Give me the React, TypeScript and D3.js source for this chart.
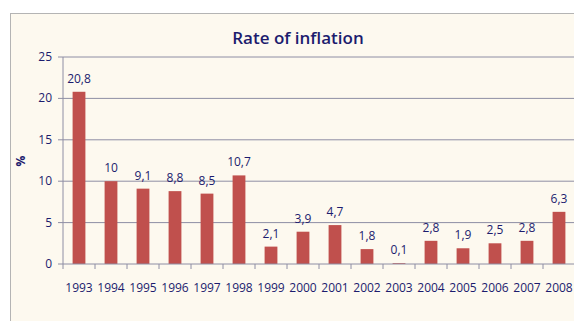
import React from "react";
import * as d3 from "d3";

const years = ["1993","1994","1995","1996","1997","1998","1999","2000","2001","2002","2003","2004","2005","2006","2007","2008"];
const rates = [20.8, 10, 9.1, 8.8, 8.5, 10.7, 2.1, 3.9, 4.7, 1.8, 0.1, 2.8, 1.9, 2.5, 2.8, 6.3];
const yTicks = [0, 5, 10, 15, 20, 25];
const title = "Rate of inflation";
const yLabel = "%";

const W = 574, H = 321;
const plot = { left: 63, right: 575, top: 57, bottom: 264 };
const navy = "#1c1c6e";
const font = "'Open Sans', sans-serif";

export default function App() {
  const x = d3.scaleBand<string>().domain(years).range([plot.left, plot.right]).paddingInner(0.6).paddingOuter(0.3);
  const xb = d3.scaleBand<string>().domain(years).range([plot.left, plot.right]);
  const y = d3.scaleLinear().domain([0, 25]).range([plot.bottom, plot.top]);
  const fmt = (v: number) => String(v).replace(".", ",");
  return (
    <svg width={W} height={H} style={{ position: "absolute", left: 0, top: 0 }} fontFamily={font}>
      <rect x={0} y={0} width={W} height={H} fill="#ffffff" />
      <rect x={10.5} y={13.5} width={W} height={H} fill="#fdf9ef" stroke="#b4b4b4" strokeWidth={1} />
      <text x={298} y={44} textAnchor="middle" fontSize={17} fontWeight={600} fill={navy}>{title}</text>
      <text transform={`translate(25,161) rotate(-90)`} textAnchor="middle" fontSize={12} fontWeight={700} fill={navy}>{yLabel}</text>
      {yTicks.map(t => (
        <g key={t}>
          {t > 0 && <line x1={plot.left} x2={plot.right} y1={y(t)} y2={y(t)} stroke="#8e8ea4" strokeWidth={1} />}
          <line x1={plot.left - 5} x2={plot.left} y1={y(t)} y2={y(t)} stroke="#8e8ea4" strokeWidth={1} />
          <text x={52} y={y(t) + 4} textAnchor="end" fontSize={12} fill={navy}>{t}</text>
        </g>
      ))}
      <line x1={plot.left} x2={plot.left} y1={plot.top} y2={plot.bottom} stroke="#8e8ea4" strokeWidth={1} />
      {years.map((yr, i) => (
        <g key={yr}>
          <rect x={x(yr)!} y={y(rates[i])} width={x.bandwidth()} height={plot.bottom - y(rates[i])} fill="#c0504d" />
          <text x={x(yr)! + x.bandwidth() / 2} y={y(rates[i]) - 9} textAnchor="middle" fontSize={12} fill={navy}>{fmt(rates[i])}</text>
          <line x1={xb(yr)!} x2={xb(yr)!} y1={plot.bottom} y2={plot.bottom + 5} stroke="#8e8ea4" strokeWidth={1} />
          <text x={xb(yr)! + xb.bandwidth() / 2} y={292} textAnchor="middle" fontSize={12} fill={navy}>{yr}</text>
        </g>
      ))}
      <line x1={plot.left} x2={plot.right} y1={plot.bottom} y2={plot.bottom} stroke="#8e8ea4" strokeWidth={1} />
    </svg>
  );
}
